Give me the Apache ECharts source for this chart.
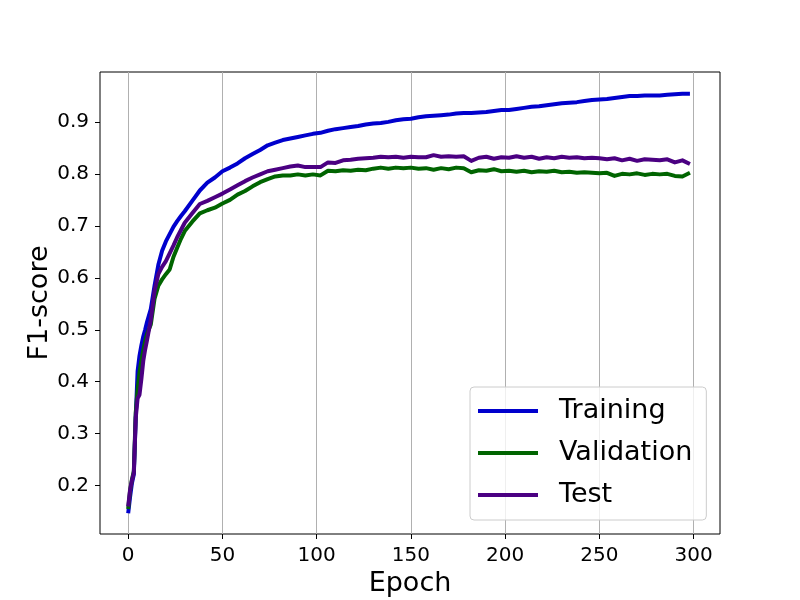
<!DOCTYPE html>
<html>
<head>
<meta charset="utf-8">
<script src="https://cdn.jsdelivr.net/npm/echarts@6/dist/echarts.min.js"></script>
<style>
html, body { margin: 0; padding: 0; background: #fff; }
#chart { width: 800px; height: 600px; }
</style>
</head>
<body>
<div id="chart"></div>
<script>
var epochs = [
	0, 1, 2, 3, 4, 5, 6, 7, 8, 9, 10,
	12, 14, 16, 18, 20, 22, 24, 26, 28, 30,
	34, 38, 42, 46, 50, 54, 58, 62, 66, 70,
	74, 78, 82, 86, 90, 94, 98, 102, 106, 110,
	114, 118, 122, 126, 130, 134, 138, 142, 146, 150,
	154, 158, 162, 166, 170, 174, 178, 182, 186, 190,
	194, 198, 202, 206, 210, 214, 218, 222, 226, 230,
	234, 238, 242, 246, 250, 254, 258, 262, 266, 270,
	274, 278, 282, 286, 290, 294, 298
];
var training = [
	0.147, 0.178, 0.205, 0.222, 0.330, 0.420, 0.450, 0.470, 0.487, 0.500, 0.515,
	0.540, 0.585, 0.625, 0.652, 0.670, 0.684, 0.698, 0.709, 0.719, 0.728,
	0.748, 0.768, 0.783, 0.793, 0.805, 0.812, 0.820, 0.830, 0.838, 0.846,
	0.855, 0.860, 0.865, 0.868, 0.871, 0.874, 0.877, 0.879, 0.883, 0.886,
	0.888, 0.890, 0.892, 0.895, 0.897, 0.898, 0.900, 0.903, 0.905, 0.906,
	0.909, 0.911, 0.912, 0.913, 0.914, 0.916, 0.917, 0.917, 0.918, 0.919,
	0.921, 0.923, 0.923, 0.925, 0.927, 0.929, 0.930, 0.932, 0.934, 0.936,
	0.937, 0.938, 0.940, 0.942, 0.943, 0.944, 0.946, 0.948, 0.950, 0.950,
	0.951, 0.951, 0.951, 0.952, 0.953, 0.954, 0.954
];
var validation = [
	0.155, 0.190, 0.212, 0.228, 0.340, 0.385, 0.418, 0.440, 0.460, 0.478, 0.492,
	0.510, 0.560, 0.585, 0.597, 0.607, 0.616, 0.640, 0.658, 0.675, 0.690,
	0.708, 0.724, 0.730, 0.735, 0.743, 0.750, 0.760, 0.767, 0.776, 0.784,
	0.790, 0.795, 0.797, 0.797, 0.799, 0.797, 0.799, 0.797, 0.806, 0.805,
	0.807, 0.806, 0.808, 0.807, 0.810, 0.812, 0.810, 0.812, 0.811, 0.812,
	0.810, 0.811, 0.808, 0.811, 0.809, 0.812, 0.811, 0.803, 0.807, 0.806,
	0.809, 0.805, 0.806, 0.804, 0.806, 0.803, 0.805, 0.804, 0.806, 0.803,
	0.804, 0.802, 0.803, 0.802, 0.801, 0.802, 0.796, 0.800, 0.799, 0.801,
	0.798, 0.800, 0.799, 0.800, 0.796, 0.795, 0.802
];
var test = [
	0.160, 0.192, 0.210, 0.225, 0.330, 0.368, 0.375, 0.405, 0.440, 0.462, 0.480,
	0.519, 0.575, 0.607, 0.621, 0.632, 0.647, 0.662, 0.678, 0.692, 0.706,
	0.724, 0.742, 0.748, 0.755, 0.762, 0.770, 0.778, 0.786, 0.793, 0.799,
	0.805, 0.808, 0.811, 0.814, 0.816, 0.813, 0.813, 0.813, 0.822, 0.821,
	0.826, 0.827, 0.829, 0.830, 0.831, 0.833, 0.832, 0.833, 0.831, 0.833,
	0.832, 0.832, 0.836, 0.833, 0.834, 0.833, 0.834, 0.825, 0.831, 0.833,
	0.829, 0.832, 0.831, 0.834, 0.831, 0.833, 0.829, 0.832, 0.830, 0.833,
	0.831, 0.832, 0.830, 0.831, 0.830, 0.828, 0.830, 0.826, 0.829, 0.825,
	0.828, 0.827, 0.826, 0.828, 0.822, 0.826, 0.819
];
var xTicks = [0, 50, 100, 150, 200, 250, 300];
var yTicks = [0.2, 0.3, 0.4, 0.5, 0.6, 0.7, 0.8, 0.9];
var seriesNames = ['Training', 'Validation', 'Test'];
var seriesColors = ['#0000cd', '#006400', '#4b0082'];

function pairs(ys) {
	return epochs.map(function (e, i) { return [e, ys[i]]; });
}

var font = 'DejaVu Sans';
var chart = echarts.init(document.getElementById('chart'));
var option = {
	animation: false,
	grid: {
		left: 100, right: 80, top: 72, bottom: 66,
		show: true, borderColor: '#000', borderWidth: 1,
		outerBoundsMode: 'none'
	},
	xAxis: {
		type: 'value',
		min: -14.95, max: 313.95,
		name: 'Epoch',
		nameLocation: 'middle',
		nameGap: 36,
		nameMoveOverlap: false,
		nameTextStyle: { fontFamily: font, fontSize: 27, color: '#000' },
		axisLine: { show: false, onZero: false },
		axisTick: { show: true, inside: false, length: 5, customValues: xTicks,
			lineStyle: { color: '#000', width: 1 } },
		axisLabel: { customValues: xTicks, margin: 12, fontFamily: font, fontSize: 20, color: '#000' },
		splitLine: { show: true, lineStyle: { color: '#b0b0b0', width: 1 } }
	},
	yAxis: {
		type: 'value',
		min: 0.107, max: 0.996,
		name: 'F1-score',
		nameLocation: 'middle',
		nameGap: 47,
		nameMoveOverlap: false,
		nameTextStyle: { fontFamily: font, fontSize: 27, color: '#000' },
		axisLine: { show: false, onZero: false },
		axisTick: { show: true, inside: false, length: 5, customValues: yTicks,
			lineStyle: { color: '#000', width: 1 } },
		axisLabel: { customValues: yTicks, margin: 11, fontFamily: font, fontSize: 20, color: '#000',
			formatter: function (v) { return v.toFixed(1); } },
		splitLine: { show: false }
	},
	legend: {
		orient: 'vertical',
		left: 470, top: 387,
		padding: [9, 14, 10, 8],
		itemGap: 12,
		itemWidth: 60,
		itemHeight: 4,
		icon: 'rect',
		backgroundColor: 'rgba(255,255,255,0.8)',
		borderColor: '#cccccc',
		borderWidth: 1,
		borderRadius: 4,
		textStyle: { fontFamily: font, fontSize: 27, color: '#000', lineHeight: 30, padding: [0, 0, 0, 16] },
		data: seriesNames
	},
	series: [training, validation, test].map(function (ys, i) {
		return {
			name: seriesNames[i],
			type: 'line',
			data: pairs(ys),
			symbol: 'none',
			color: seriesColors[i],
			lineStyle: { width: 4, color: seriesColors[i], join: 'round' }
		};
	})
};
chart.setOption(option);
</script>
</body>
</html>
